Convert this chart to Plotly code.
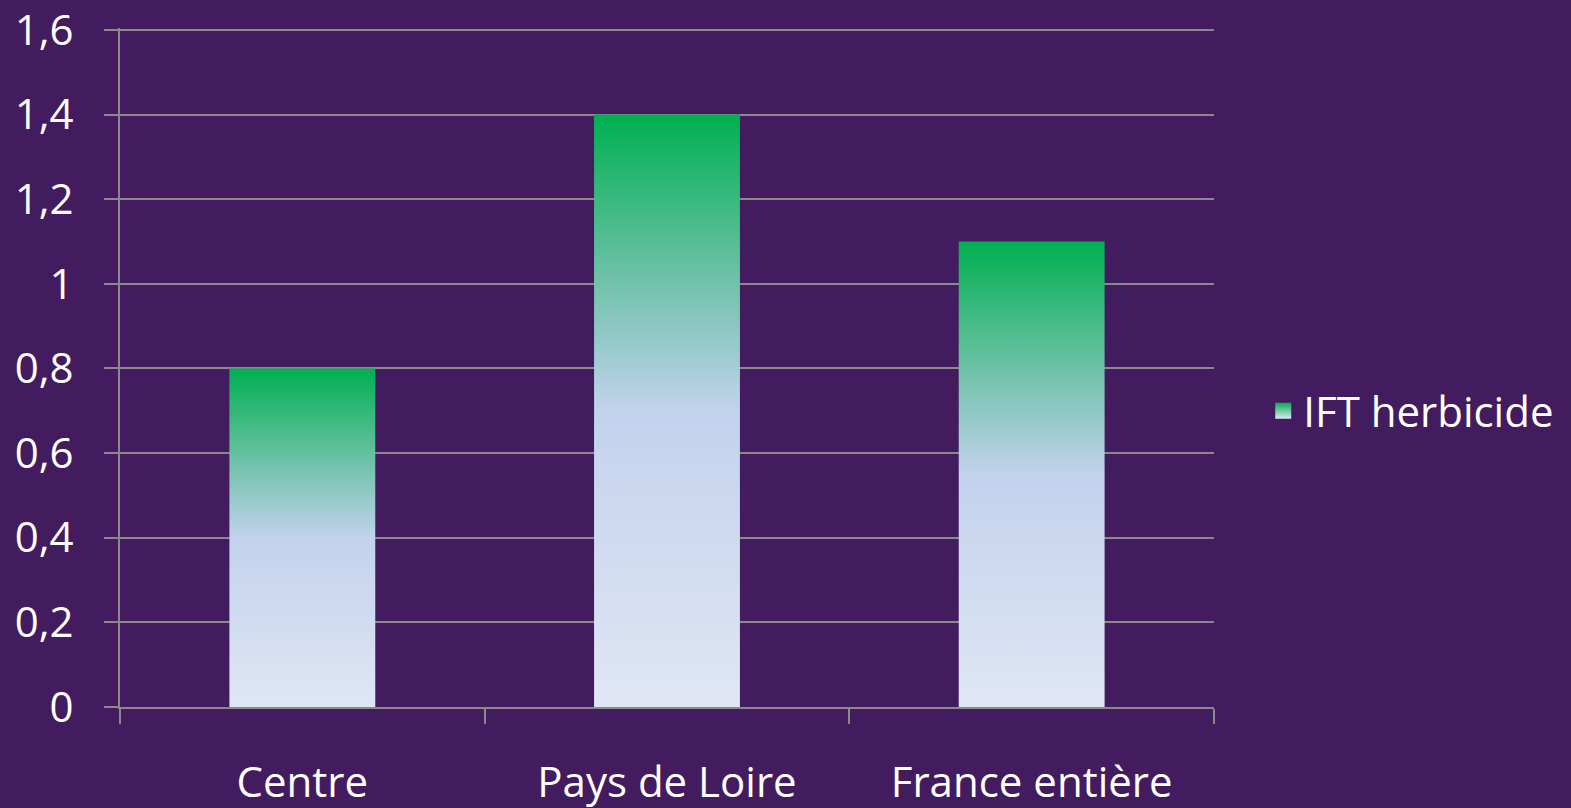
import plotly.graph_objects as go

# ---- data ----
categories = ["Centre", "Pays de Loire", "France entière"]
values = [0.8, 1.4, 1.1]
series_name = "IFT herbicide"
y_tickvals = [0, 0.2, 0.4, 0.6, 0.8, 1.0, 1.2, 1.4, 1.6]

# ---- styles ----
BG = "rgb(66,28,94)"
GRID = "rgb(138,138,138)"
FONT = "Open Sans"
FS = 42
BAR_WIDTH = 0.4
TOP_GREEN = "rgb(0,176,80)"
LIGHT = "rgb(224,230,244)"
gradient = [[0.0, LIGHT],
            [0.5, "rgb(194,210,237)"],
            [0.75, "rgb(100,192,160)"],
            [1.0, TOP_GREEN]]

fig = go.Figure()

# real bars on the category axis (transparent, carry data + hover)
fig.add_trace(go.Bar(
    x=categories, y=values, width=BAR_WIDTH,
    marker=dict(color="rgba(0,0,0,0)", line=dict(width=0)),
    showlegend=False, name=series_name,
))

# gradient-filled bar bodies on an overlaid linear axis using the same positions
for i, (cat, v) in enumerate(zip(categories, values)):
    x0, x1 = i - BAR_WIDTH / 2, i + BAR_WIDTH / 2
    fig.add_trace(go.Scatter(
        x=[x0, x0, x1, x1, x0], y=[0, v, v, 0, 0],
        xaxis="x2", mode="lines", line=dict(width=0),
        fill="toself",
        fillgradient=dict(type="vertical", colorscale=gradient, start=0, stop=v),
        name=series_name, showlegend=False,
        hoverinfo="skip",
    ))

# legend entry: gradient square
fig.add_trace(go.Scatter(
    x=[None], y=[None], mode="markers", name=series_name,
    marker=dict(symbol="square", size=16, color=TOP_GREEN,
                gradient=dict(type="vertical", color=LIGHT),
                line=dict(width=0)),
    showlegend=True,
))

fig.update_layout(
    width=1571, height=808,
    paper_bgcolor=BG, plot_bgcolor=BG,
    margin=dict(l=120, r=357, t=28, b=101),
    separators=", ",
    font=dict(family=FONT, color="white", size=FS),
    xaxis=dict(
        type="category", range=[-0.5, 2.5], automargin=False,
        tickson="boundaries", ticks="outside", ticklen=15, tickcolor=GRID, tickwidth=2,
        showline=True, linecolor=GRID, linewidth=2,
        showgrid=False, zeroline=False,
        ticklabelstandoff=38,
        tickfont=dict(size=FS, family=FONT, color="white"),
    ),
    xaxis2=dict(overlaying="x", range=[-0.5, 2.5], visible=False),
    yaxis=dict(
        range=[0, 1.6047], tickvals=y_tickvals, automargin=False,
        ticks="outside", ticklen=14, tickcolor=GRID, tickwidth=2,
        showline=True, linecolor=GRID, linewidth=2,
        showgrid=True, gridcolor=GRID, gridwidth=2,
        zeroline=False,
        ticklabelstandoff=22, ticklabeloverflow="allow",
        tickfont=dict(size=FS, family=FONT, color="white"),
    ),
    legend=dict(
        x=1.045, y=0.436, xanchor="left", yanchor="middle",
        font=dict(size=FS, family=FONT, color="white"),
        bgcolor="rgba(0,0,0,0)",
    ),
    showlegend=True,
)

fig.write_html(
    "out.html",
    config={"displayModeBar": False},
    post_script="document.body.style.margin='0';document.body.style.overflow='hidden';",
)
